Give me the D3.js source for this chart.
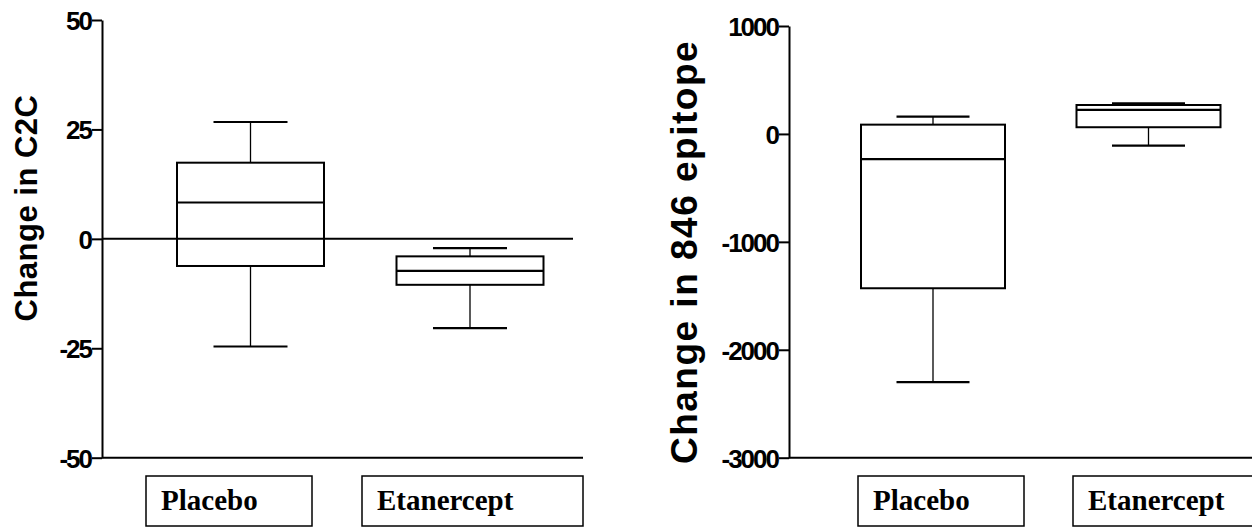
<!DOCTYPE html>
<html>
<head>
<meta charset="utf-8">
<script src="https://cdn.jsdelivr.net/npm/d3@7"></script>
<style>
  body { margin: 0; background: #fff; }
  svg { display: block; }
  .tick text { font-family: "Liberation Sans", Arial, sans-serif; font-weight: bold; font-size: 26px; letter-spacing: -2px; }
  .ytitle { font-family: "Liberation Sans", Arial, sans-serif; font-weight: bold; }
  .cat { font-family: "Liberation Serif", "Times New Roman", serif; font-weight: bold; font-size: 29px; }
</style>
</head>
<body>
<div id="chart"></div>
<script>
// groups shown in both panels
const groups = ["Placebo", "Etanercept"];

// C2C change (left panel), box plot summary
const c2cMin    = [-24.6, -20.4];
const c2cQ1     = [-6.2, -10.5];
const c2cMedian = [8.3, -7.3];
const c2cQ3     = [17.4, -4.0];
const c2cMax    = [26.7, -2.1];
const c2cTicks  = [50, 25, 0, -25, -50];

// 846 epitope change (right panel)
const epiMin    = [-2300, -108];
const epiQ1     = [-1430, 62];
const epiMedian = [-234, 222];
const epiQ3     = [86, 268];
const epiMax    = [160, 284];
const epiTicks  = [1000, 0, -1000, -2000, -3000];

const W = 1252, H = 527;
const svg = d3.select("#chart").append("svg")
    .attr("width", W)
    .attr("height", H);

function drawPanel(p) {
    const g = svg.append("g");

    const y = d3.scaleLinear().domain(p.domain).range([457.7, p.top]);
    const x = d3.scalePoint().domain(groups).range(p.centers);

    // y axis, plain hyphen for negatives like the original
    const yAxis = d3.axisLeft(y)
        .tickValues(p.ticks)
        .tickSize(10)
        .tickSizeOuter(0)
        .tickPadding(1)
        .tickFormat(d => String(d));
    const ax = g.append("g")
        .attr("transform", `translate(${p.axisX},0)`)
        .call(yAxis);
    ax.select(".domain").attr("stroke", "#000").attr("stroke-width", 2);
    ax.selectAll(".tick line").attr("stroke", "#000").attr("stroke-width", 2);
    ax.selectAll(".tick text").attr("fill", "#000").attr("dy", "0.36em");

    // bottom axis line
    g.append("line")
        .attr("x1", p.axisX).attr("x2", p.bottomEnd)
        .attr("y1", y(p.domain[0])).attr("y2", y(p.domain[0]))
        .attr("stroke", "#000").attr("stroke-width", 2);

    // zero line
    if (p.zeroLine) {
        g.append("line")
            .attr("x1", p.axisX).attr("x2", p.zeroEnd)
            .attr("y1", y(0)).attr("y2", y(0))
            .attr("stroke", "#000").attr("stroke-width", 2);
    }

    const rows = groups.map((name, i) => ({
        name, min: p.min[i], q1: p.q1[i], med: p.med[i], q3: p.q3[i], max: p.max[i]
    }));

    const box = g.selectAll(".box").data(rows).join("g").attr("class", "box");

    // whisker stems
    box.append("line")
        .attr("x1", d => x(d.name)).attr("x2", d => x(d.name))
        .attr("y1", d => y(d.max)).attr("y2", d => y(d.q3))
        .attr("stroke", "#000").attr("stroke-width", 1.3);
    box.append("line")
        .attr("x1", d => x(d.name)).attr("x2", d => x(d.name))
        .attr("y1", d => y(d.q1)).attr("y2", d => y(d.min))
        .attr("stroke", "#000").attr("stroke-width", 1.3);

    // caps
    box.selectAll(".cap").data(d => [d.max, d.min].map(v => ({name: d.name, v})))
        .join("line")
        .attr("x1", d => x(d.name) - p.capW / 2).attr("x2", d => x(d.name) + p.capW / 2)
        .attr("y1", d => y(d.v)).attr("y2", d => y(d.v))
        .attr("stroke", "#000").attr("stroke-width", 2.2);

    // boxes
    box.append("rect")
        .attr("x", d => x(d.name) - p.boxW / 2)
        .attr("width", p.boxW)
        .attr("y", d => y(d.q3))
        .attr("height", d => y(d.q1) - y(d.q3))
        .attr("fill", "none")
        .attr("stroke", "#000").attr("stroke-width", 2);

    // medians
    box.append("line")
        .attr("x1", d => x(d.name) - p.boxW / 2).attr("x2", d => x(d.name) + p.boxW / 2)
        .attr("y1", d => y(d.med)).attr("y2", d => y(d.med))
        .attr("stroke", "#000").attr("stroke-width", 2.2);

    // category label boxes under the axis
    const lab = g.selectAll(".lab").data(groups).join("g").attr("class", "lab");
    lab.append("rect")
        .attr("x", (d, i) => p.labX[i])
        .attr("y", 476)
        .attr("width", (d, i) => p.labW[i])
        .attr("height", 50)
        .attr("fill", "none")
        .attr("stroke", "#000").attr("stroke-width", 1.5);
    lab.append("text")
        .attr("class", "cat")
        .attr("x", (d, i) => p.labX[i] + 15)
        .attr("y", 510)
        .text(d => d);

    // y title
    g.append("text")
        .attr("class", "ytitle")
        .attr("transform", `translate(${p.titleX},${p.titleY}) rotate(-90)`)
        .attr("text-anchor", "middle")
        .attr("font-size", p.titleSize)
        .attr("letter-spacing", p.titleSpacing)
        .text(p.title);
}

drawPanel({
    domain: [-50, 50], top: 20, ticks: c2cTicks,
    axisX: 102, bottomEnd: 583, zeroLine: true, zeroEnd: 573,
    centers: [250.5, 470], boxW: 147, capW: 74,
    min: c2cMin, q1: c2cQ1, med: c2cMedian, q3: c2cQ3, max: c2cMax,
    labX: [146, 362], labW: [166, 221],
    title: "Change in C2C", titleX: 37, titleY: 208, titleSize: 31, titleSpacing: 0.5
});

drawPanel({
    domain: [-3000, 1000], top: 26, ticks: epiTicks,
    axisX: 789, bottomEnd: 1252, zeroLine: false,
    centers: [933, 1148.5], boxW: 144, capW: 73,
    min: epiMin, q1: epiQ1, med: epiMedian, q3: epiQ3, max: epiMax,
    labX: [858, 1073], labW: [166, 221],
    title: "Change in 846 epitope", titleX: 697, titleY: 252, titleSize: 37, titleSpacing: 1.5
});
</script>
</body>
</html>
